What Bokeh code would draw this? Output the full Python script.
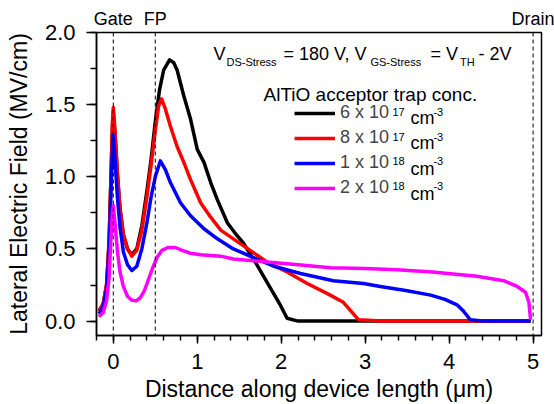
from bokeh.plotting import figure
from bokeh.models import (Range1d, LinearAxis, FixedTicker, SingleIntervalTicker, Span,
                          Label, Legend, LegendItem, NumeralTickFormatter)
from bokeh.embed import file_html
from bokeh.resources import INLINE

FONT = "Liberation Sans"

# ---- data ----
x_6e17 = [-0.17, -0.12, -0.08, -0.05, -0.03, -0.01, 0.0, 0.02, 0.05, 0.08, 0.12, 0.17, 0.22,
          0.28, 0.34, 0.40, 0.45, 0.50, 0.55, 0.60, 0.67, 0.72, 0.76, 0.84, 0.92, 1.00, 1.08,
          1.16, 1.24, 1.36, 1.45, 1.55, 1.69, 1.83, 1.99, 2.07, 2.2, 3.0, 4.0, 4.97]
y_6e17 = [0.07, 0.12, 0.25, 0.55, 0.95, 1.35, 1.45, 1.30, 1.00, 0.78, 0.60, 0.50, 0.46,
          0.50, 0.66, 0.90, 1.12, 1.38, 1.60, 1.74, 1.81, 1.79, 1.74, 1.56, 1.40, 1.19, 1.10,
          0.96, 0.84, 0.68, 0.61, 0.54, 0.41, 0.27, 0.11, 0.02, 0.0, 0.0, 0.0, 0.0]

x_8e17 = [-0.17, -0.12, -0.08, -0.05, -0.03, -0.01, 0.0, 0.02, 0.05, 0.08, 0.12, 0.17, 0.22,
          0.28, 0.34, 0.40, 0.45, 0.50, 0.54, 0.575, 0.62, 0.68, 0.76, 0.84, 0.92, 1.04, 1.16,
          1.28, 1.43, 1.63, 1.83, 2.07, 2.31, 2.55, 2.74, 2.86, 2.92, 3.2, 4.0, 4.97]
y_8e17 = [0.07, 0.12, 0.25, 0.55, 0.95, 1.38, 1.48, 1.32, 1.02, 0.78, 0.60, 0.50, 0.45,
          0.49, 0.63, 0.86, 1.08, 1.32, 1.49, 1.54, 1.47, 1.35, 1.21, 1.10, 0.98, 0.82, 0.72,
          0.63, 0.57, 0.49, 0.41, 0.34, 0.26, 0.19, 0.13, 0.05, 0.01, 0.0, 0.0, 0.0]

x_1e18 = [-0.17, -0.12, -0.08, -0.05, -0.03, -0.01, 0.0, 0.02, 0.05, 0.08, 0.12, 0.17, 0.22,
          0.28, 0.34, 0.40, 0.45, 0.50, 0.56, 0.62, 0.68, 0.80, 0.92, 1.08, 1.24, 1.43, 1.67,
          1.91, 2.23, 2.62, 2.98, 3.18, 3.50, 3.78, 3.95, 4.10, 4.17, 4.25, 4.4, 4.97]
y_1e18 = [0.05, 0.10, 0.22, 0.48, 0.85, 1.20, 1.29, 1.12, 0.85, 0.65, 0.48, 0.39, 0.35,
          0.38, 0.50, 0.68, 0.86, 1.00, 1.11, 1.05, 0.96, 0.82, 0.73, 0.64, 0.57, 0.50, 0.44,
          0.38, 0.33, 0.28, 0.26, 0.24, 0.21, 0.18, 0.15, 0.11, 0.07, 0.01, 0.0, 0.0]

x_2e18 = [-0.17, -0.12, -0.08, -0.05, -0.03, -0.01, 0.0, 0.02, 0.05, 0.08, 0.12, 0.17, 0.22,
          0.27, 0.32, 0.37, 0.42, 0.47, 0.52, 0.58, 0.65, 0.74, 0.82, 0.92, 1.04, 1.28, 1.43,
          1.83, 2.2, 2.59, 3.0, 3.38, 3.8, 4.33, 4.65, 4.81, 4.91, 4.95, 4.97]
y_2e18 = [0.03, 0.06, 0.14, 0.30, 0.55, 0.75, 0.80, 0.68, 0.48, 0.34, 0.24, 0.17, 0.145,
          0.14, 0.16, 0.21, 0.29, 0.37, 0.44, 0.49, 0.51, 0.51, 0.49, 0.47, 0.46, 0.45, 0.43,
          0.41, 0.39, 0.37, 0.365, 0.355, 0.34, 0.31, 0.28, 0.24, 0.20, 0.13, 0.01]

series_colors = ["black", "#ff0000", "#0000ff", "#ff00ff"]
legend_labels = ["6 x 10", "8 x 10", "1 x 10", "2 x 10"]
legend_exps = ["17", "17", "18", "18"]

marker_positions = [0, 0.5, 5]
marker_labels = ["Gate", "FP", "Drain"]

# ---- figure ----
p = figure(width=554, height=404, output_backend="svg", toolbar_location=None,
           x_range=Range1d(-0.2, 5.1), y_range=Range1d(-0.1, 2.0),
           min_border_left=96, min_border_right=13, min_border_top=32, min_border_bottom=68)
p.grid.visible = False
p.outline_line_color = "black"
p.outline_line_width = 1.5
p.background_fill_color = "white"
p.border_fill_color = "white"

xa = p.xaxis[0]
xa.ticker = SingleIntervalTicker(interval=1, num_minor_ticks=5)
xa.axis_label = "Distance along device length (\u03bcm)"
ya = p.yaxis[0]
ya.ticker = SingleIntervalTicker(interval=0.5, num_minor_ticks=2)
ya.formatter = NumeralTickFormatter(format="0.0")
ya.axis_label = "Lateral Electric Field (MV/cm)"

for ax, mj, mn, st in ((xa, 8, 5, 10), (ya, 10, 6, 11)):
    ax.axis_line_width = 1.5
    ax.axis_line_color = "black"
    ax.major_tick_line_width = 1.5
    ax.minor_tick_line_width = 1.5
    ax.major_tick_line_color = "black"
    ax.minor_tick_line_color = "black"
    ax.major_tick_in = 0
    ax.major_tick_out = mj
    ax.minor_tick_in = 0
    ax.minor_tick_out = mn
    ax.major_label_standoff = st
    ax.major_label_text_font = FONT
    ax.major_label_text_font_size = "22px"
    ax.major_label_text_color = "black"
    ax.axis_label_text_font = FONT
    ax.axis_label_text_font_size = "23px"
    ax.axis_label_text_font_style = "normal"
    ax.axis_label_text_color = "black"
xa.axis_label_standoff = 4
ya.axis_label_standoff = 10

top = LinearAxis(ticker=FixedTicker(ticks=marker_positions, minor_ticks=[]),
                 major_label_overrides={k: v for k, v in zip(marker_positions, marker_labels)})
top.axis_line_color = None
top.major_tick_line_color = None
top.minor_tick_line_color = None
top.major_tick_in = 0
top.major_tick_out = 0
top.major_label_standoff = 4
top.major_label_text_font = FONT
top.major_label_text_font_size = "18px"
top.major_label_text_color = "black"
p.add_layout(top, "above")

for xpos in marker_positions:
    p.add_layout(Span(location=xpos, dimension="height", line_color="black",
                      line_width=1, line_dash="4 3"))

renderers = []
for xs, ys, c in ((x_6e17, y_6e17, series_colors[0]), (x_8e17, y_8e17, series_colors[1]),
                  (x_1e18, y_1e18, series_colors[2]), (x_2e18, y_2e18, series_colors[3])):
    renderers.append(p.line(xs, ys, line_color=c, line_width=3.5, line_join="round"))

legend = Legend(items=[LegendItem(label=l, renderers=[r]) for l, r in zip(legend_labels, renderers)],
                location=(198, 137), orientation="vertical",
                glyph_width=41, glyph_height=20, label_height=20, label_standoff=5,
                spacing=4, padding=0, margin=0, border_line_color=None,
                background_fill_alpha=0, label_text_font=FONT, label_text_font_size="18px")
p.add_layout(legend)

def lab(x, y, t, size):
    p.add_layout(Label(x=x, y=y, text=t, text_font=FONT, text_font_size=size,
                       text_color="black", text_baseline="alphabetic", text_align="left"))

# stress condition text with subscripts
lab(1.193, 1.848, "V", "18px")
lab(1.348, 1.799, "DS-Stress", "11px")
lab(2.027, 1.848, "= 180 V, V", "18px")
lab(3.063, 1.799, "GS-Stress", "11px")
lab(3.778, 1.848, "= V", "18px")
lab(4.129, 1.799, "TH", "11px")
lab(4.349, 1.848, "- 2V", "18px")

lab(1.789, 1.570, "AlTiO acceptor trap conc.", "19px")

row_base = [1.404, 1.231, 1.057, 0.884]
row_sup = [1.452, 1.279, 1.106, 0.933]
for e, yb, ys in zip(legend_exps, row_base, row_sup):
    lab(3.325, ys, e, "11px")
    lab(3.540, yb, "cm", "18px")
    lab(3.813, ys, "-3", "11px")

open("out.html", "w").write(file_html(p, INLINE))
